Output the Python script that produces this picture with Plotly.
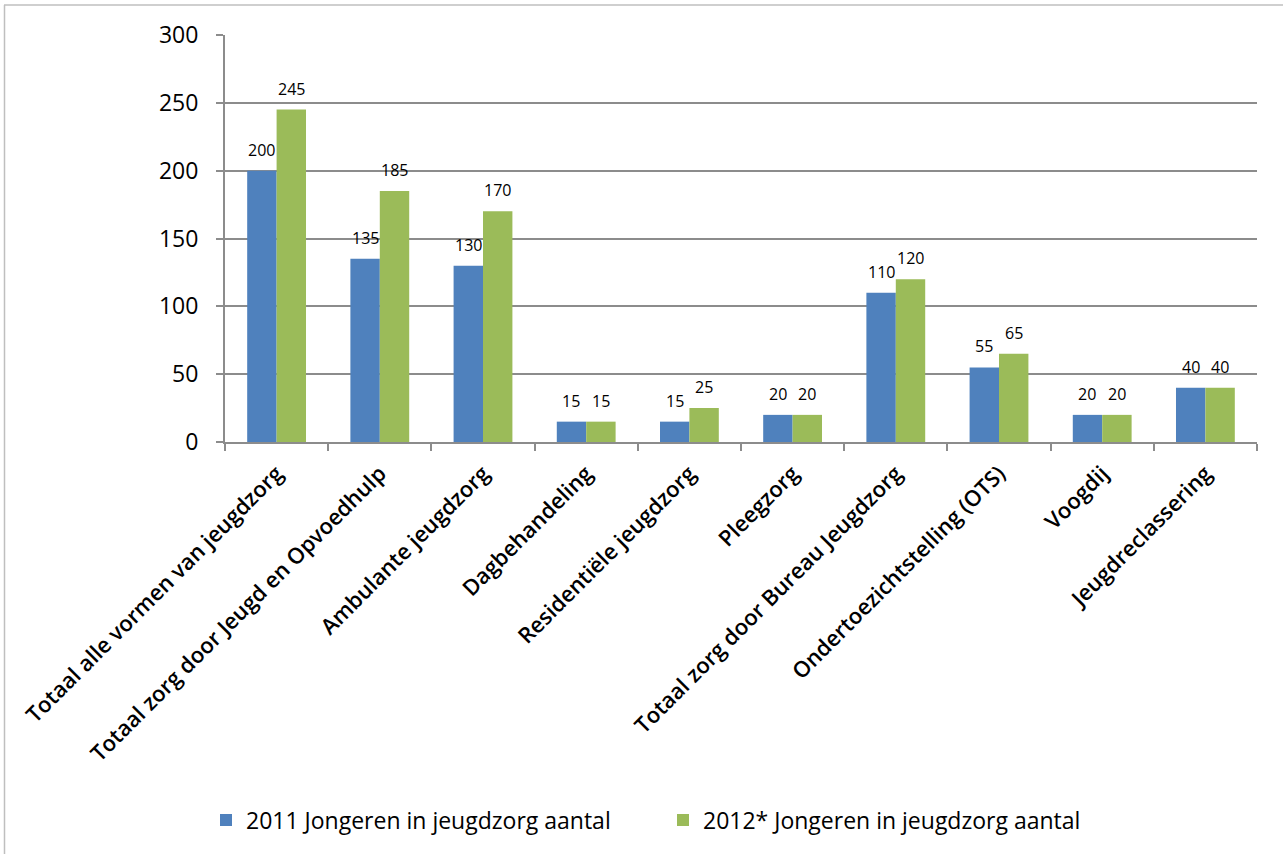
import plotly.graph_objects as go

categories = [
    "Totaal alle vormen van jeugdzorg",
    "Totaal zorg door Jeugd en Opvoedhulp",
    "Ambulante jeugdzorg",
    "Dagbehandeling",
    "Residentiële jeugdzorg",
    "Pleegzorg",
    "Totaal zorg door Bureau Jeugdzorg",
    "Ondertoezichtstelling (OTS)",
    "Voogdij",
    "Jeugdreclassering",
]
series_2011 = [200, 135, 130, 15, 15, 20, 110, 55, 20, 40]
series_2012 = [245, 185, 170, 15, 25, 20, 120, 65, 20, 40]
name_2011 = "2011 Jongeren in jeugdzorg aantal"
name_2012 = "2012* Jongeren in jeugdzorg aantal"
y_ticks = [0, 50, 100, 150, 200, 250, 300]

BLUE = "#4F81BD"
GREEN = "#9BBB59"
GRID = "#8C8C8C"
FONT = "Open Sans"

fig = go.Figure()
fig.add_trace(go.Bar(x=categories, y=series_2011, name=name_2011, marker_color=BLUE,
                     marker_line_width=0))
fig.add_trace(go.Bar(x=categories, y=series_2012, name=name_2012, marker_color=GREEN,
                     marker_line_width=0))

L, R, T, B = 225, 26, 35, 412
W, H = 1283, 854
pw = W - L - R
ph = H - T - B
bar_px = pw / len(categories) * (1 - 0.43) / 2

annotations = []
for vals, sh in ((series_2011, -1), (series_2012, 1)):
    for c, v in zip(categories, vals):
        annotations.append(dict(x=c, y=v, text=str(v), showarrow=False,
                                xshift=sh * bar_px / 2, yshift=21,
                                font=dict(family=FONT, size=16, color="#000000")))

def px_to_paper_x(px):
    return (px - L) / pw

def px_to_paper_y(py):
    return (H - B - py) / ph

shapes = [
    dict(type="line", xref="paper", yref="paper",
         x0=px_to_paper_x(4), x1=px_to_paper_x(1283), y0=px_to_paper_y(5), y1=px_to_paper_y(5),
         line=dict(color="#BFBFBF", width=1.5)),
    dict(type="line", xref="paper", yref="paper",
         x0=px_to_paper_x(4.5), x1=px_to_paper_x(4.5), y0=px_to_paper_y(5), y1=px_to_paper_y(854),
         line=dict(color="#BFBFBF", width=1.5)),
]

fig.update_layout(
    width=W, height=H,
    margin=dict(l=L, r=R, t=T, b=B, pad=0, autoexpand=False),
    plot_bgcolor="white", paper_bgcolor="white",
    barmode="group", bargap=0.43, bargroupgap=0,
    font=dict(family=FONT, color="#000000"),
    annotations=annotations,
    shapes=shapes,
    legend=dict(orientation="h", x=px_to_paper_x(206), xanchor="left",
                y=px_to_paper_y(820), yanchor="middle",
                font=dict(family=FONT, size=23, color="#000000", weight=500),
                entrywidth=412, entrywidthmode="pixels",
                itemwidth=30, tracegroupgap=0),
    showlegend=True,
)
fig.update_xaxes(
    type="category", tickangle=-45, tickson="boundaries", automargin=False,
    ticks="outside", ticklen=7, tickcolor=GRID, tickwidth=2,
    showline=True, linecolor=GRID, linewidth=2,
    showgrid=False, ticklabelstandoff=8,
    tickfont=dict(family=FONT, size=22, color="#000000", weight=600),
)
fig.update_yaxes(
    range=[0, 300], tickvals=y_ticks, automargin=False,
    ticks="outside", ticklen=7, tickcolor=GRID, tickwidth=2,
    showline=True, linecolor=GRID, linewidth=2,
    showgrid=True, gridcolor=GRID, gridwidth=2,
    zeroline=False, ticklabelstandoff=13,
    tickfont=dict(family=FONT, size=23, color="#000000", weight=500),
)

fig.write_html("out.html", config={"displayModeBar": False},
               post_script="document.body.style.margin='0';")
